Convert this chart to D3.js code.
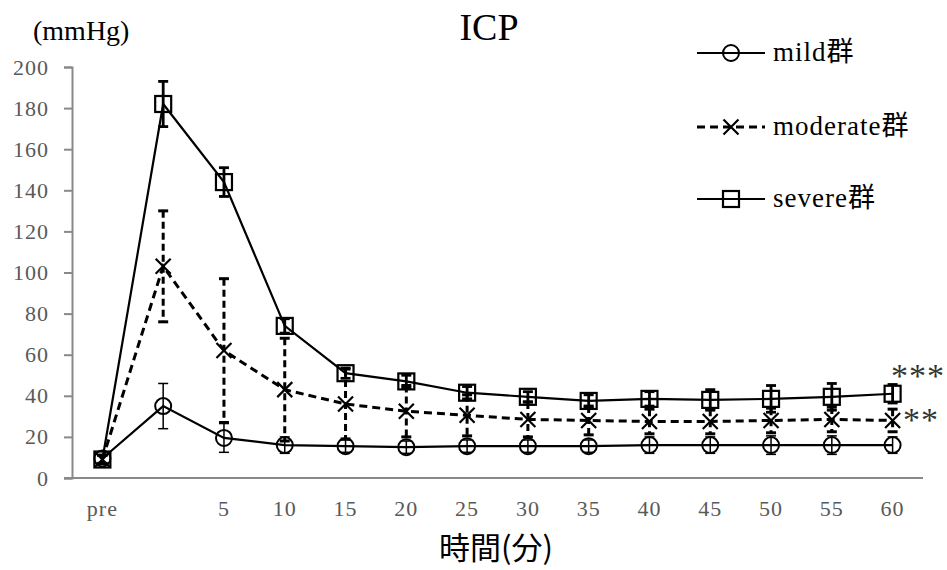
<!DOCTYPE html>
<html lang="ja">
<head>
  <meta charset="UTF-8" />
  <title>ICP</title>
  <script src="https://d3js.org/d3.v7.min.js"></script>
  <style>
    html, body { margin: 0; background: #fff; }
    svg { display: block; font-family: "Liberation Serif", serif; }
    .tick-label { font-family: "Liberation Serif", serif; font-size: 22px; letter-spacing: 1px; fill: #595959; }
  </style>
</head>
<body>
  <svg id="chart" width="947" height="570"></svg>

  <script>
    // ----- data -----
    const categories = ['pre', '', '5', '10', '15', '20', '25', '30', '35', '40', '45', '50', '55', '60'];
    const yTicks = [0, 20, 40, 60, 80, 100, 120, 140, 160, 180, 200];

    const mildMean     = [9.5, 35, 19.5, 16, 15.5, 15, 15.5, 15.5, 15.5, 16, 16, 16, 16, 16];
    const mildErr      = [2, 11, 7, 4, 3, 3, 3, 3, 3, 4, 4, 4.5, 4.5, 4];
    const moderateMean = [9, 103, 62, 43, 36, 32.5, 30.5, 28.5, 28, 27.5, 27.5, 28, 28.5, 28];
    const moderateErr  = [2, 27, 35, 25, 17, 12.5, 10, 8.5, 7, 6, 6, 6, 6, 5.5];
    const severeMean   = [9, 182, 144, 74, 51, 47, 41.5, 39.5, 37.5, 38.5, 38, 38.5, 39.5, 41];
    const severeErr    = [2, 11, 7, 3.5, 2.5, 3, 3, 2.5, 3, 3.5, 5, 6.5, 6.5, 4.5];

    const series = [
      {name: 'mild群',     mean: mildMean,     err: mildErr,     marker: 'circle', dash: null,  lw: 2.2, ew: 1.5, edash: null},
      {name: 'moderate群', mean: moderateMean, err: moderateErr, marker: 'x',      dash: '8,5', lw: 3,   ew: 3,   edash: '7,4'},
      {name: 'severe群',   mean: severeMean,   err: severeErr,   marker: 'square', dash: null,  lw: 2.2, ew: 2.8, edash: null}
    ];

    const svg = d3.select('#chart');
    const plot = {left: 72, right: 923, top: 67, bottom: 478};

    const x = d3.scaleBand().domain(categories).range([plot.left, plot.right]);
    const cx = c => x(c) + x.bandwidth() / 2;
    const y = d3.scaleLinear().domain([0, 200]).range([plot.bottom, plot.top]);

    // ----- axes -----
    const yAxis = svg.append('g')
      .attr('transform', `translate(${plot.left},0)`)
      .call(d3.axisLeft(y).tickValues(yTicks).tickSize(8).tickPadding(15));
    yAxis.select('.domain').attr('stroke', '#898989').attr('stroke-width', 2);
    yAxis.selectAll('.tick line').attr('stroke', '#898989').attr('stroke-width', 2);
    yAxis.selectAll('.tick text').attr('class', 'tick-label').attr('font-family', null).attr('font-size', null).attr('fill', null);

    svg.append('line')
      .attr('x1', plot.left - 8).attr('x2', plot.right)
      .attr('y1', plot.bottom).attr('y2', plot.bottom)
      .attr('stroke', '#898989').attr('stroke-width', 2);

    svg.append('g').selectAll('text')
      .data(categories)
      .enter().append('text')
        .attr('class', 'tick-label')
        .attr('x', d => cx(d))
        .attr('y', 516)
        .attr('text-anchor', 'middle')
        .text(d => d);

    // ----- titles -----
    svg.append('text')
      .attr('x', 489).attr('y', 40)
      .attr('text-anchor', 'middle')
      .attr('font-family', '"Liberation Serif", serif')
      .attr('font-size', 38)
      .text('ICP');

    svg.append('text')
      .attr('x', 33).attr('y', 40)
      .attr('font-family', '"Liberation Serif", serif')
      .attr('font-size', 28)
      .text('(mmHg)');

    svg.append('text')
      .attr('x', 496).attr('y', 559)
      .attr('text-anchor', 'middle')
      .attr('font-family', '"Noto Sans CJK JP", sans-serif')
      .attr('font-size', 31)
      .text('時間(分)');

    // ----- marker drawing -----
    function drawMarker(g, type, px, py) {
      if (type === 'circle') {
        g.append('circle').attr('cx', px).attr('cy', py).attr('r', 8)
          .attr('fill', 'none').attr('stroke', '#000').attr('stroke-width', 2);
      } else if (type === 'square') {
        g.append('rect').attr('x', px - 8).attr('y', py - 8).attr('width', 16).attr('height', 16)
          .attr('fill', 'none').attr('stroke', '#000').attr('stroke-width', 2.2);
      } else {
        const s = 7.5;
        g.append('path')
          .attr('d', `M${px - s},${py - s}L${px + s},${py + s}M${px - s},${py + s}L${px + s},${py - s}`)
          .attr('stroke', '#000').attr('stroke-width', 2.2).attr('fill', 'none');
      }
    }

    const line = d3.line().x(d => cx(d.c)).y(d => y(d.v));

    series.forEach(s => {
      const pts = categories.map((c, i) => ({c, v: s.mean[i], e: s.err[i]}));
      const g = svg.append('g');

      g.append('path')
        .datum(pts)
        .attr('d', line)
        .attr('fill', 'none')
        .attr('stroke', '#000')
        .attr('stroke-width', s.lw)
        .attr('stroke-dasharray', s.dash);

      // error bars
      const eb = g.append('g')
        .attr('stroke', '#000')
        .attr('stroke-width', s.ew);
      pts.forEach(p => {
        const px = cx(p.c);
        eb.append('line')
          .attr('x1', px).attr('x2', px)
          .attr('y1', y(p.v + p.e)).attr('y2', y(p.v - p.e))
          .attr('stroke-dasharray', s.edash);
        [p.v + p.e, p.v - p.e].forEach(v => {
          eb.append('line')
            .attr('x1', px - 5).attr('x2', px + 5)
            .attr('y1', y(v)).attr('y2', y(v));
        });
      });

      pts.forEach(p => drawMarker(g, s.marker, cx(p.c), y(p.v)));
    });

    // ----- significance marks -----
    svg.append('text')
      .attr('x', 918).attr('y', 387)
      .attr('text-anchor', 'middle')
      .attr('font-family', '"Liberation Serif", serif')
      .attr('font-size', 34)
      .attr('letter-spacing', 1)
      .attr('fill', '#333')
      .text('***');
    svg.append('text')
      .attr('x', 921).attr('y', 431)
      .attr('text-anchor', 'middle')
      .attr('font-family', '"Liberation Serif", serif')
      .attr('font-size', 34)
      .attr('letter-spacing', 1)
      .attr('fill', '#333')
      .text('**');

    // ----- legend -----
    const legendY = [53, 127, 199];
    series.forEach((s, i) => {
      const g = svg.append('g');
      const ly = legendY[i];
      g.append('line')
        .attr('x1', 697).attr('x2', 765)
        .attr('y1', ly).attr('y2', ly)
        .attr('stroke', '#000')
        .attr('stroke-width', s.lw)
        .attr('stroke-dasharray', s.dash);
      drawMarker(g, s.marker, 731, ly);
      g.append('text')
        .attr('x', 773)
        .attr('y', ly + 8)
        .attr('font-family', '"Liberation Serif", "Noto Sans CJK JP", serif')
        .attr('font-size', 27)
        .attr('letter-spacing', 1)
        .attr('fill', '#000')
        .text(s.name);
    });
  </script>
</body>
</html>
